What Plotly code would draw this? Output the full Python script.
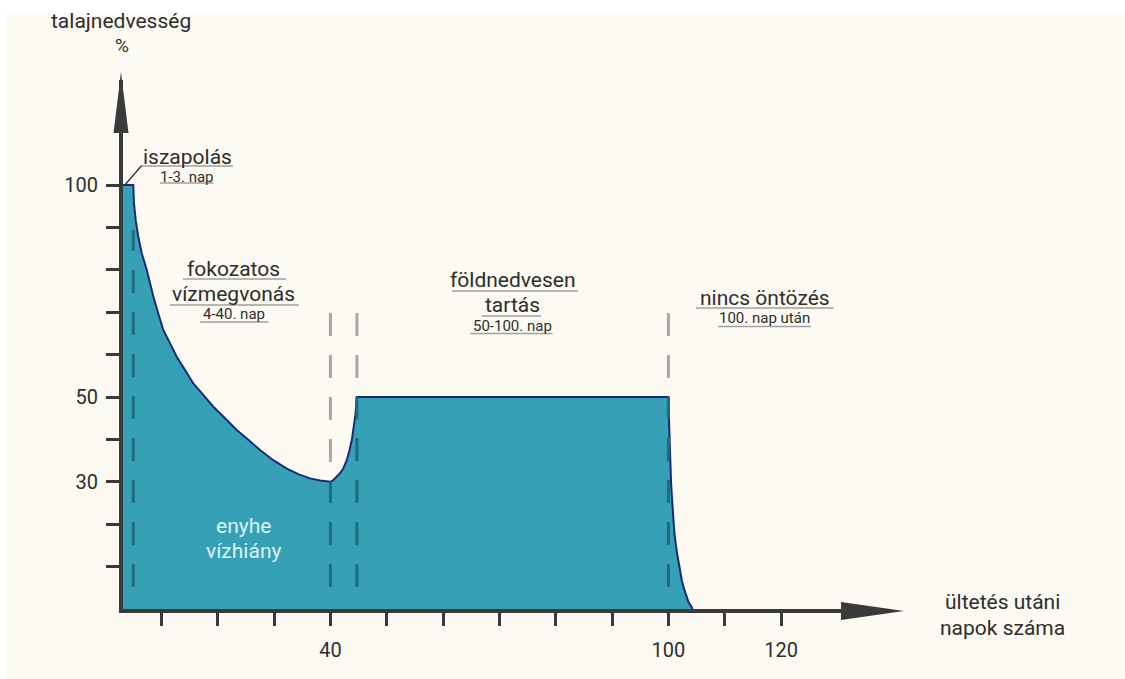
import numpy as np
import plotly.graph_objects as go

# ---------------- data ----------------
days = [3, 5, 5.13, 5.43, 5.89, 6.5, 7.39, 8.56, 9.44, 10.33, 11.52, 12.71, 14.18, 15.66,
        17.43, 19.21, 21.29, 23.36, 25.42, 27.5, 29.86, 32.24, 34.3, 36.37, 38.15, 40,
        40.5, 41.7, 42.3, 42.9, 43.4, 43.8, 44.1, 44.4, 44.7,
        100, 100.18, 100.3, 100.48, 100.78, 101.07, 101.49, 101.95, 102.38, 102.84, 103.55, 104.33]
moisture = [100, 100, 95.7, 91.7, 87.8, 83.9, 80.0, 73.7, 69.7, 65.8, 62.7, 59.5, 56.4, 53.2,
            50.5, 47.7, 45.0, 42.2, 39.9, 37.5, 35.1, 33.1, 31.8, 30.8, 30.3, 30,
            30.4, 32.0, 33.2, 35.1, 37.5, 39.9, 42.6, 45.4, 50,
            50, 41.4, 35.5, 29.6, 23.3, 17.8, 13.5, 10.0, 6.8, 4.5, 1.7, 0]

x_tick_vals = [10, 20, 30, 40, 50, 60, 70, 80, 90, 100, 110, 120]
x_tick_text = ["", "", "", "40", "", "", "", "", "", "100", "", "120"]
y_tick_vals = [10, 20, 30, 40, 50, 60, 70, 80, 90, 100]
y_tick_text = ["", "", "30", "", "50", "", "", "", "", "100"]

divider_days = [5, 40, 44.7, 100]
divider_tops = [89.4, 69.8, 69.8, 69.8]
divider_bottom = 5.2

# ---------------- layout geometry (screen pixels) ----------------
WIDTH, HEIGHT = 1125, 679
OFF = 0
DAY0_PX = 105.1                 # screen x of day 0
PX_PER_DAY, PX_PER_UNIT = 5.633, 4.24
L_S, R_S, T_S, B_S = 123, 890, 80, 609
L, R, T, B = L_S - OFF, R_S - OFF, T_S - OFF, B_S - OFF
PW, PH = R - L, B - T
X_RANGE = [(L_S - DAY0_PX) / PX_PER_DAY, (R_S - DAY0_PX) / PX_PER_DAY]
Y_RANGE = [0, PH / PX_PER_UNIT]


def pp(sx, sy):
    """screen pixel -> paper coordinates"""
    return (sx - OFF - L) / PW, (B - (sy - OFF)) / PH


BG = "#FCFAF2"
TEAL = "#36A1B6"
NAVY = "#1B2A78"
AXIS = "#3A3A3A"
TXT = "#2E2E2E"
ULINE = "#A2A29E"
FONT = "Roboto"
DASH = "23px,19px"

fig = go.Figure()

# gray dashed dividers (under the fill)
for d, top in zip(divider_days, divider_tops):
    if d == 5:
        continue
    fig.add_trace(go.Scatter(x=[d, d], y=[top, divider_bottom], mode="lines",
                             line=dict(color="#A9A9A4", width=3, dash=DASH),
                             hoverinfo="skip", showlegend=False))

# moisture area
fig.add_trace(go.Scatter(x=days, y=moisture, mode="lines", fill="tozeroy",
                         fillcolor=TEAL, line=dict(color=NAVY, width=2),
                         hoverinfo="skip", showlegend=False))

# dark dashed dividers inside the fill (drawn from the bottom up)
for d, top in zip(divider_days, divider_tops):
    cap = float(np.interp(d, days, moisture))
    fig.add_trace(go.Scatter(x=[d, d], y=[divider_bottom, min(top, cap)], mode="lines",
                             line=dict(color="#1F6C7A", width=3, dash=DASH),
                             hoverinfo="skip", showlegend=False))

shapes = []
# white border strips (top and left) of the original picture
shapes.append(dict(type="rect", xref="paper", yref="paper", layer="below",
                   x0=pp(0, 0)[0], x1=pp(1200, 0)[0], y0=pp(0, 12.7)[1], y1=pp(0, 0)[1],
                   fillcolor="white", line=dict(width=0)))
shapes.append(dict(type="rect", xref="paper", yref="paper", layer="below",
                   x0=pp(0, 0)[0], x1=pp(6.7, 0)[0], y0=pp(0, 700)[1], y1=pp(0, 0)[1],
                   fillcolor="white", line=dict(width=0)))


def tri(p1, p2, p3):
    a, b, c = pp(*p1), pp(*p2), pp(*p3)
    return f"M {a[0]} {a[1]} L {b[0]} {b[1]} L {c[0]} {c[1]} Z"


# arrow heads
shapes.append(dict(type="path", xref="paper", yref="paper",
                   path=tri((121, 72), (113.5, 133), (128.5, 133)),
                   fillcolor=AXIS, line=dict(width=0)))
shapes.append(dict(type="path", xref="paper", yref="paper",
                   path=tri((904, 611), (841, 602), (841, 620)),
                   fillcolor=AXIS, line=dict(width=0)))
# leader line of "iszapolás"
shapes.append(dict(type="line", xref="x", yref="y", x0=3.5, y0=100, x1=6.5, y1=104.6,
                   line=dict(color=TXT, width=1.3)))

# underlines of the phase labels (screen px: x0, x1, y)
underlines = [
    (141.7, 233.0, 166.0), (160.0, 213.5, 183.0),
    (183.0, 286.0, 279.0), (170.0, 299.0, 305.0), (200.0, 268.5, 322.0),
    (452.0, 578.0, 291.0), (481.5, 541.0, 316.0), (470.5, 552.5, 333.5),
    (696.0, 833.5, 308.0), (718.0, 811.0, 326.5),
]
for x0s, x1s, ys in underlines:
    a, b = pp(x0s, ys), pp(x1s, ys)
    shapes.append(dict(type="line", xref="paper", yref="paper",
                       x0=a[0], y0=a[1], x1=b[0], y1=b[1],
                       line=dict(color=ULINE, width=1.5)))

BIG = 21
SMALL = 15


def ann(text, x, y, size, color=TXT, xref="x", yref="y"):
    return dict(text=text, x=x, y=y, xref=xref, yref=yref, showarrow=False,
                xanchor="center", yanchor="middle",
                font=dict(family=FONT, size=size, color=color))


annotations = [
    ann("iszapolás", 14.6, 106.6, BIG),
    ann("1-3. nap", 14.5, 101.8, SMALL),
    ann("fokozatos", 22.8, 80.2, BIG),
    ann("vízmegvonás", 22.8, 74.2, BIG),
    ann("4-40. nap", 22.8, 69.6, SMALL),
    ann("földnedvesen", 72.4, 77.6, BIG),
    ann("tartás", 72.4, 71.8, BIG),
    ann("50-100. nap", 72.4, 66.8, SMALL),
    ann("nincs öntözés", 117.1, 73.3, BIG),
    ann("100. nap után", 117.1, 68.7, SMALL),
    ann("enyhe", 24.6, 19.6, BIG, color="#DDF0F3"),
    ann("vízhiány", 24.6, 13.7, BIG, color="#DDF0F3"),
]
for text, sx, sy, size in [("ültetés utáni", 1002, 602, BIG), ("napok száma", 1002, 628, BIG),
                           ("talajnedvesség", 121, 21, BIG), ("%", 122, 45, 19)]:
    px_, py_ = pp(sx, sy)
    annotations.append(ann(text, px_, py_, size, xref="paper", yref="paper"))

axis_common = dict(showline=True, linecolor=AXIS, linewidth=4, ticks="outside",
                   ticklen=13, tickwidth=3, tickcolor=AXIS, showgrid=False,
                   zeroline=False, fixedrange=True,
                   tickfont=dict(family=FONT, size=20, color=TXT))

fig.update_layout(
    width=WIDTH, height=HEIGHT,
    margin=dict(l=L, r=WIDTH - R, t=T, b=HEIGHT - B, pad=0),
    paper_bgcolor=BG, plot_bgcolor=BG,
    xaxis=dict(range=X_RANGE, tickvals=x_tick_vals, ticktext=x_tick_text,
               ticklabelstandoff=7, **axis_common),
    yaxis=dict(range=Y_RANGE, tickvals=y_tick_vals, ticktext=y_tick_text,
               ticklabelstandoff=4, **axis_common),
    shapes=shapes, annotations=annotations, showlegend=False,
)

fig.write_html("out.html", config={"displayModeBar": False},
               post_script="document.body.style.margin='0';document.body.style.overflow='hidden';")
